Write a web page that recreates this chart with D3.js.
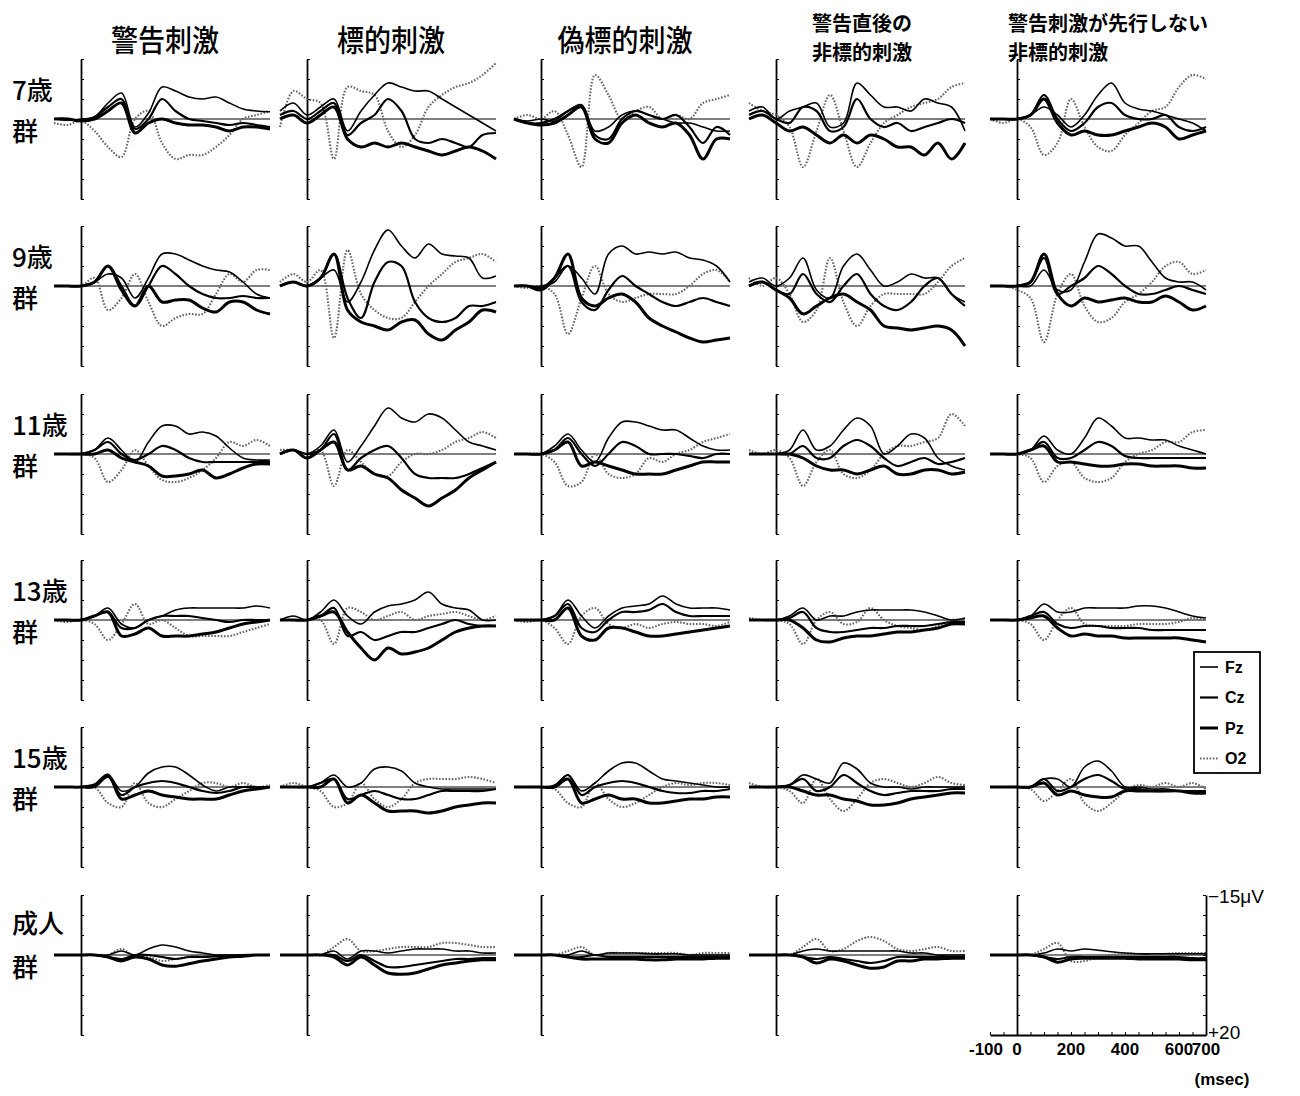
<!DOCTYPE html>
<html>
<head>
<meta charset="utf-8">
<script src="https://cdn.jsdelivr.net/npm/d3@7"></script>
<style>
  body{margin:0;background:#fff;}
  svg{display:block;}
</style>
</head>
<body>
<div class="chartDiv"></div>
<script>
(function(){
  // sample times (msec) shared by every waveform
  var times      = [-100,-50,0,50,100,150,200,250,300,350,400,450,500,550,600,650,700];
  var conditions = ["警告刺激","標的刺激","偽標的刺激",["警告直後の","非標的刺激"],["警告刺激が先行しない","非標的刺激"]];
  var groups     = ["7歳","9歳","11歳","13歳","15歳","成人"];
  var channels   = ["Fz","Cz","Pz","O2"];
  var yTicks     = [-15,-10,-5,0,5,10,15,20];
  var xTicks     = [-100,-50,0,50,100,150,200,250,300,350,400,450,500,550,600,650,700];
  var xLabels    = [-100,0,200,400,600,700];

  // grand average values (microvolt, negative up), one row per condition
  var fz_7 = [
    [0,0.3,0,-0.5,-4,-6.5,2,-1.5,-8,-7,-5.5,-5,-5.5,-4,-2.5,-2,-1.8],
    [-2,-4,-1,-3,-5,3,-2,-6,-9,-8,-7,-7,-5,-3,-1,1,3],
    [0,0.5,0,0.5,-2,-3,3,2,-1,-2,-1,0,1,1,2,3,3],
    [-2,-3,0,-2,-3,-4,2,1,-9,-6,-3,-3,-2,-5,-4,-3,3],
    [0,0,0,-1,-3,-1,2,-1,-6,-9,-4,-2.5,-2,-1,0,1,3]];
  var cz_7 = [
    [0,0,0.5,-0.5,-3,-5,2.5,0,-5,-2,0,0.5,1,1.5,1,1.5,2],
    [-1,-2,0,-2,-4,4,1,-1,-5,-2,5,6,5,6,7,4,3.5],
    [0,1,1,0,-2,-3.5,4,5,0,-2,-1,0,-1,2,6,2,4],
    [-1,-2,0,1,-3,-2,3,2,-5,0,2,1,3,2,1,0,1],
    [0,0,0,-1,-6,0,3,1,-3,-4,-1,0,0,-1,2,3,2]];
  var pz_7 = [
    [0,0,0.5,0,-2,-4,3.5,1,0,1,1.5,1.5,2,3,2,2,2.5],
    [0,-1,1,-1,-3,5,7,6,7,6,7,8,9,8,7,8,10],
    [0,1,1.5,1,-1,-3,5,6,1,-1,1,2,1,4,10,5,5],
    [0,-1,1,3,2,4,6,4,6,4,5,7,7,9,6,10,6],
    [0,0,0,-1,-5,1,4,3,4,4,3,2,1,2,5,4,3]];
  var o2_7 = [
    [1,1.5,0.5,3,7,9.5,0,-2,6,10,9,9,7,4,0,-1,-2],
    [2,-7,-5,-4,10,-8,-7,-6,3,7,4,-3,-6,-8,-9,-11,-14],
    [0,-1,0,-2,4,12,-11,-6,0,-2,-3,0,-1,0,-4,-5,-6],
    [-4,-2,-1,2,12,3,-6,3,12,6,1,-1,-3,-4,-5,-8,-9],
    [0,1,0,2,9,6,-5,2,7,8,4,1,-2,-3,-8,-11,-10]];

  var fz_9 = [
    [0,0,0,-1,-3,-2,3,-2,-8,-8,-6.5,-5,-4,-3.5,-1,2,3],
    [0,-1,0,-2,-4,4,-1,-9,-14,-10,-7,-10.5,-8,-7.5,-7,-2,-2.5],
    [0,0,0,-1,-5,-2,2,-8,-10,-8,-8.5,-8,-8.5,-7,-6.5,-5,-1],
    [-1,-2,0,-2,-7,1,3,-5,-8,-4,0,-1,-3,-2,-2,2,4],
    [0,0,0,0,-4,1,1,-6,-13,-12,-10,-10,-6,-2,-1,-1,1]];
  var cz_9 = [
    [0,0,0,-1,-5,0,5,0,-5,-3,0,2,3,3,2.5,3,3],
    [0,-1,0,-2,-8,3,8,-1,-6,-5,4,8,9,8,5,5,4],
    [0,0,0.5,-2,-5,4,6,1,-2.5,0,2,4,5,4,3,4,5],
    [0,-1,1,2,-3,2,4,0,-3,2,5,6,4,0,-2,2,5],
    [0,0,0,-1,-7,2,0,-2,-5,-3,0,2,2,1,0,1,2]];
  var pz_9 = [
    [0,0,0,-1,-5,1,5,0,4,3.5,3.5,5.5,6.5,4,4,6,7],
    [0,-1,0,-2,-8,6,9,10,11,9,8.5,12,13.5,11,9,6,6.5],
    [0,0,1,-2,-8,3,5,3,2,4,8,10,11.5,13,14,13.5,13],
    [0,-1,1,3,7,5,3,2,4,6,10,10.5,11,10.5,10,11,15],
    [0,0,0,-1,-8,2,5,3,4,3.5,3,4,4,2.5,4,6,5]];
  var o2_9 = [
    [0,0,0,-2,6,3,-3,4,10,8,7,7,2,-3,-1,-4,-4],
    [-1,-3,-1,-4,13,-9,2,6,8,8,4,0,-3,-6,-7,-8,-6],
    [0,0.5,0,2,12,3,-5,2,4,3,2,2,2,0,-3,-4,-1],
    [-2,0,-2,2,9,6,-7,4,10,5,2,2,2,2,-1,-5,-7],
    [0,0,1,3,14,2,-3,5,9,8,4,2,-1,-5,-6,-3,-4]];

  var fz_11 = [
    [0,0,0,-1,-4,-1,2,-3,-7,-7,-5,-5.5,-4.5,-1.5,1,1.5,1.5],
    [0,-1,0,-2,-6,2,-2,-7,-11.5,-9,-8,-10,-9,-6,-3,-2,-1],
    [0,0,0,-2,-5,-1,2,-4,-8,-8,-7,-6,-6,-4,-2,-1,-1],
    [0,0,0,-1,-6,-1,-2,-6,-9,-7,0,-2,-5,-4,1,3,4],
    [0,0,0,-1,-4.5,-1,0,-4,-9,-7,-4,-4,-3.5,-3.5,-2,-1,0]];
  var cz_11 = [
    [0,0,0,-1,-3,0,1.5,0,-2,-1,1,2,2,2,2,2,2],
    [0,-1,0,-1,-5,4,1,-1,-2,1,5,6,6,6,5,3.5,2],
    [0,0,0,-1,-4,0,3,0,-3,-2,0,0,0,0.5,1,0,0],
    [0,0,0,0,-2,1,1,-2,-3.5,-2,1,3,2,1,2.5,2,1],
    [0,0,0,-1,-3,1,1,-1,-3,-2,0.5,1,1,1,1,1,1]];
  var pz_11 = [
    [0,0,0,0,-1,1,2,3,5.5,5.5,5,4,6,5,3.5,2.5,2.5],
    [0,-1,1,-1,-3,4,3,5,6,9,11,13,11,9,6,4,2],
    [0,0,0,-1,-3,3,2,3,4,5,5,5,4,3,2,2,2],
    [0,0,0,0,1,3,4,4,5,4,3,5,5,4,4,5,4.5],
    [0,0,0,-1,-2,2,2,2.5,3,3,2.5,2.5,3,3,3,3.5,3.5]];
  var o2_11 = [
    [0,0,0,1,7,4,-1,3,6.5,7,6,4,1,-3,-2,-3.5,-2],
    [-1,-1,0,-1,8,-1,2,5,5.5,2,0,0,-1,-3,-4,-5.5,-4],
    [0,0,0,2,8,7,0,5,6,5,1,2,0,-1,-3,-4,-5],
    [-1,0,-1,1,8,2,-1,5,6,4,0,-2,-2,-3,-4,-10,-7],
    [0,0,0,1,7,3,2,6,7,6,2,0,-1,-3,-3,-5.5,-6]];

  var fz_13 = [
    [0,0,0,-1,-3,1,2,0,-1,-2.5,-3,-3,-3,-3,-3,-3.5,-3],
    [0,-1,0,-2,-5,-1,1,-2,-3.5,-4,-5,-7,-4,-3,-2.5,0,0],
    [0,0,0,-1,-5,-1,2,-1,-3,-3.5,-4,-6,-4,-3,-3,-3,-2.5],
    [0,0,0,-1,-3,0,-1,-1,-2,-2.5,-2.5,-2.5,-2.5,-2,-1,0,-0.5],
    [0,0,0,-1,-4,-2,-2,-3,-3,-3,-3,-3.5,-3.5,-3,-2,-1,-0.5]];
  var cz_13 = [
    [0,0,0,-1,-2,2,2,0,-1,-1,-1,-0.5,0,0.5,0,0,0],
    [0,0,0,-1,-3,4,3,5,4,3,3,2,1,0,1,1.5,1.5],
    [0,0,0,-1,-4,2,3,0,-2,-2,-2.5,-4,-2,-1,-1,-1,-1],
    [0,0,0,-0.5,-2,2,3,3,2.5,2,2,1.5,1.5,1.5,1,0.5,0.5],
    [0,0,0,-1,-2,1,2,1.5,1.5,2,2,2,2.5,2.5,2.5,2.5,2.5]];
  var pz_13 = [
    [0,0,0,-1,-2,4,3.5,2,4,4,4,3.5,3,2,1,0.5,0],
    [0,0,0,-1,-2,3,7,10,7,8.5,8,7,5,3,2,1.5,1.5],
    [0,0,0,0,-3,4,5,2,2,3,4,4,3.5,3,2.5,2,1.5],
    [0,0,0,0,2,5,5.5,4.5,4,4,3.5,3,3,2.5,2,1,1],
    [0,0,0,-0.5,-1,2,4,3.5,4,4,4.5,4.5,4.5,4.5,4.5,5,5.5]];
  var o2_13 = [
    [0,0.5,0,1,5,1,-4,1,0,2,4,4,4,4,3,2,1],
    [0,0,0,0,6,-3,-2,0,-1,-2,0,-1,-1.5,-2,-1,0,-1],
    [0,0.5,0,2,6,-1,-3,1,2,1,2,1,0.5,1,1,1.5,0.5],
    [-0.5,0,0,1,6,0,-2,1,0.5,-3,0,1.5,2,2.5,1.5,0,0],
    [0,0,0,1,5,0,-3,1,1.5,1.5,1.5,1,1,1,0.5,-0.5,0]];

  var fz_15 = [
    [0,0,0,0,-3,1,0,-3.5,-5,-5,-3,-0.5,1,0,0,0,0],
    [0,0,0,-1,-3,0,-1,-4.5,-5,-4,-1,0,0.5,0.5,0.5,0.5,0.5],
    [0,0,0,-0.5,-3,1,-1,-4,-6,-6,-4,-2,-1.5,-1,-0.5,0,0],
    [0,0,0,-0.5,-3,-2,-1,-6,-4.5,-1,0,0,0.5,0,0,0,0],
    [0,0,0,0,-2,-2,0,-5,-6.5,-4,0,0,0.5,0.5,1,1,1]];
  var cz_15 = [
    [0,0,0,0,-2.5,2,0,-1,-1.5,-1,0,1,1.5,1,0,0,0],
    [0,0,0,-1,-2,3,2,1,2,3,3,2,1,1,1,1,0.5],
    [0,0,0,0,-3,2,0,-1,-1.5,-1,0,1,1.5,1.5,1,1,0.5],
    [0,0,0,-0.5,-2,1,0,-3,-1,1,2,1.5,1,1,1,0.5,0.5],
    [0,0,0,0,-2,1,0,-2,-3,-1.5,0.5,0.5,1,1,1,1,1]];
  var pz_15 = [
    [0,0,0,-0.5,-3,3,2,1,2,2.5,3,3,3,2,1,0.5,0],
    [0,0,0,0,-2,4,2,4,6,6,6,6.5,6,5,4.5,4,4],
    [0,0,0,0,-2,4,3,2,3,3,4,4,3.5,3,3,2.5,2.5],
    [0,0,0,0,1,2,2,3,3.5,4.5,4.5,4,3,2.5,2,1.5,1.5],
    [0,0,0,0,-1,2,1,2,2.5,2.5,1,1,1,1,1,1.5,1.5]];
  var o2_15 = [
    [0,0,0,0,4,5,-1,4,5,3,1,-1,-1,0,-1,0,-0.5],
    [0,-1,0,1,5,4,-1,3,5,3,-1,-2,-2,-2,-2.5,-2,-1],
    [0,0,0,0.5,4,5,-1,3,5,4,2,0,-1,-0.5,-1,-1,-0.5],
    [-1,0,0,1,4,-2,3,6,3,-1,-2,-1,0,-1,-2.5,-1,-0.5],
    [0,0,0,0.5,3.5,1,-2,4,6,4,1,-0.5,0,-1,0,-1,0.5]];

  var fz_ad = [
    [0,0,0,0,0,-1,0,-1.5,-2.5,-2,-1,-0.5,0,0,0,0,0],
    [0,0,0,0,-1,1,-1,-1,-0.5,-1,-1.5,-1.5,-1.5,-1,-1,-0.5,-0.5],
    [0,0,0,0,0,-1,0,-0.5,-0.5,-0.5,-0.3,-0.3,-0.3,0,0,0,0],
    [0,0,0,0,-1,-1.5,-1,-1,-1,-1,-1,-1,-0.5,-0.5,0,0,0],
    [0,0,0,0,-0.5,-1.5,-1,-1.5,-1.2,-0.8,-0.5,-0.3,-0.3,-0.3,-0.3,-0.3,-0.3]];
  var cz_ad = [
    [0,0,0,0,0.5,1,0,0,0.5,1,0.5,0.5,0.3,0.2,0,0,0],
    [0,0,0,0,0,1.5,0,1.5,3,3,2.5,2,1.5,1,1,0.8,0.8],
    [0,0,0,0,0.5,0.5,0,0.5,0.5,0.5,0.5,0.5,0.5,0.5,0.5,0.5,0.5],
    [0,0,0,0,0.5,1,0.5,1,1.5,2,1.5,0.5,0.5,0.5,0.5,0.5,0.5],
    [0,0,0,0,0.5,1,0.5,0.5,0.5,0.5,0.5,0.5,0.5,0.5,0.5,0.8,0.8]];
  var pz_ad = [
    [0,0,0,0,0.5,1.5,0.5,1,2.5,2.8,2.2,1.5,1,0.5,0.3,0,0],
    [0,0,0,0,0.5,2.5,0.5,2.5,4.5,4.8,4.5,3.5,2.5,2,1.5,1.2,1.2],
    [0,0,0,0,0.5,1,1,1,1,1,1.2,1.2,1,1,1,0.8,0.8],
    [0,0,0,0,0.5,2,1,1.5,2.5,3.3,3,1.5,1.5,1,1,0.8,0.8],
    [0,0,0,0,0.5,1.8,1,0.8,0.8,0.8,0.8,1,1,1,1,1.2,1.2]];
  var o2_ad = [
    [0,0,0,0,0,-1.5,0.5,0.5,1.5,1,0.5,0,0,0,0,0,0],
    [0,0,0,0,-2,-4,-1,-1,-1.5,-2,-2,-2,-3,-3,-2.5,-2,-2],
    [0,0,0,0,-1,-2,0,-0.5,-0.5,-0.5,-0.5,-0.5,-0.5,0,-0.5,-0.5,-0.5],
    [0,0,0,0,-2,-4,-1,-1.5,-3.5,-4.5,-3.5,-1.5,-1,-1.5,-2,-1,-1],
    [0,0,0,0,-1.5,-3,1.5,1.5,0.5,0,-0.3,-0.3,0,-0.3,-0.5,-0.5,-0.5]];

  var waves = [
    [fz_7, cz_7, pz_7, o2_7],
    [fz_9, cz_9, pz_9, o2_9],
    [fz_11, cz_11, pz_11, o2_11],
    [fz_13, cz_13, pz_13, o2_13],
    [fz_15, cz_15, pz_15, o2_15],
    [fz_ad, cz_ad, pz_ad, o2_ad]];

  //layout
  var width   = 1300,
      height  = 1096,
      axisX   = [81, 307, 541, 776, 1017],   // x of t=0 in each column
      rowTop  = [59, 226, 394, 560, 727, 895], // y of -15uV in each row
      msPx    = 0.27,
      uvPx    = 4,
      jp      = '"Noto Sans CJK JP", "Noto Sans CJK SC", sans-serif',
      latin   = '"Liberation Sans Narrow", "Liberation Sans", Arial, sans-serif';

  var style = {
    Fz: {w: 1.6, color: "#000", dash: null},
    Cz: {w: 2.2, color: "#000", dash: null},
    Pz: {w: 3.0, color: "#000", dash: null},
    O2: {w: 2.1, color: "#666", dash: "1.6,1.6"}
  };

  var svg = d3.select(".chartDiv").append("svg")
      .attr("width", width).attr("height", height)
      .style("background", "#fff");

  // column titles
  conditions.forEach(function(c, i){
    if(typeof c === "string"){
      svg.append("text")
        .attr("transform", "translate(" + (axisX[i] + 84) + ",38) scale(0.9,1)")
        .attr("text-anchor", "middle").attr("dominant-baseline", "central")
        .style("font-family", jp).style("font-size", "30px").style("font-weight", 500)
        .text(c);
    } else {
      var tx = i === 3 ? 812 : 1008;
      c.forEach(function(line, k){
        svg.append("text")
          .attr("x", tx).attr("y", 22 + k * 29)
          .attr("dominant-baseline", "central")
          .style("font-family", jp).style("font-size", "20px").style("font-weight", "bold")
          .text(line);
      });
    }
  });

  var line = d3.line().curve(d3.curveCatmullRom.alpha(0.5));

  groups.forEach(function(g, r){
    var y = d3.scaleLinear().domain([-15, 20]).range([rowTop[r], rowTop[r] + 35 * uvPx]);
    var off = g === "成人" ? -34 : -31;
    svg.append("text")
      .attr("x", 12).attr("y", y(0) + off).attr("dominant-baseline", "central")
      .style("font-family", jp).style("font-size", "26px").style("font-weight", 500).text(g);
    svg.append("text")
      .attr("x", 12).attr("y", y(0) + 10).attr("dominant-baseline", "central")
      .style("font-family", jp).style("font-size", "26px").style("font-weight", 500).text("群");

    conditions.forEach(function(c, ci){
      var x = d3.scaleLinear().domain([-100, 700])
          .range([axisX[ci] - 100 * msPx, axisX[ci] + 700 * msPx]);
      var panel = svg.append("g");

      panel.append("g")
        .attr("transform", "translate(" + x(0) + ",0)")
        .call(d3.axisRight(y).tickValues(yTicks).tickSize(3).tickSizeOuter(0).tickFormat(""))
        .call(function(a){
          a.select(".domain").attr("stroke-width", 1.8);
          a.selectAll(".tick line").attr("stroke-width", 1);
        });

      panel.append("line")
        .attr("x1", x(0)).attr("x2", x(700))
        .attr("y1", y(0)).attr("y2", y(0))
        .attr("stroke", "#000").attr("stroke-width", 1.2);

      [3, 0, 1, 2].forEach(function(k){
        var vals = waves[r][k][ci];
        var s = style[channels[k]];
        line.x(function(d, i){ return x(times[i]); })
            .y(function(d){ return y(d); });
        panel.append("path")
          .attr("d", line(vals))
          .attr("fill", "none")
          .attr("stroke", s.color)
          .attr("stroke-width", s.w)
          .attr("stroke-dasharray", s.dash)
          .attr("stroke-linejoin", "round");
      });

      // scale bars only on the adult / last column panel
      if(r === groups.length - 1 && ci === conditions.length - 1){
        panel.append("g")
          .attr("transform", "translate(" + x(700) + ",0)")
          .call(d3.axisLeft(y).tickValues(yTicks).tickSize(3).tickSizeOuter(0).tickFormat(""))
          .call(function(a){ a.select(".domain").attr("stroke-width", 1.8); });
        panel.append("g")
          .attr("transform", "translate(0," + y(20) + ")")
          .call(d3.axisTop(x).tickValues(xTicks).tickSize(3).tickSizeOuter(0).tickFormat(""))
          .call(function(a){ a.select(".domain").attr("stroke-width", 1.8); });

        xLabels.forEach(function(t){
          panel.append("text")
            .attr("x", t === -100 ? x(t) - 4 : x(t)).attr("y", y(20) + 20)
            .attr("text-anchor", "middle")
            .style("font-family", latin).style("font-size", "17px").style("font-weight", "bold")
            .text(t);
        });
        panel.append("text")
          .attr("x", x(700) + 16).attr("y", y(20) + 50)
          .attr("text-anchor", "middle")
          .style("font-family", latin).style("font-size", "17px").style("font-weight", "bold")
          .text("(msec)");
        panel.append("text")
          .attr("x", x(700) + 2).attr("y", y(-15) + 1).attr("dominant-baseline", "central")
          .style("font-family", latin).style("font-size", "19px")
          .text("−15μV");
        panel.append("text")
          .attr("x", x(700) + 2).attr("y", y(20) - 3).attr("dominant-baseline", "central")
          .style("font-family", latin).style("font-size", "19px")
          .text("+20");
      }
    });
  });

  // legend
  var lg = svg.append("g").attr("transform", "translate(1194,652)");
  lg.append("rect").attr("width", 66).attr("height", 121)
    .attr("fill", "#fff").attr("stroke", "#000").attr("stroke-width", 1.8);
  channels.forEach(function(ch, i){
    var s = style[ch];
    var cy = 15 + i * 30.5;
    lg.append("line").attr("x1", 6).attr("x2", 24).attr("y1", cy).attr("y2", cy)
      .attr("stroke", s.color).attr("stroke-width", s.w).attr("stroke-dasharray", s.dash);
    lg.append("text").attr("x", 31).attr("y", cy).attr("dominant-baseline", "central")
      .style("font-family", latin).style("font-size", "16px").style("font-weight", "bold").text(ch);
  });
})();
</script>
</body>
</html>
